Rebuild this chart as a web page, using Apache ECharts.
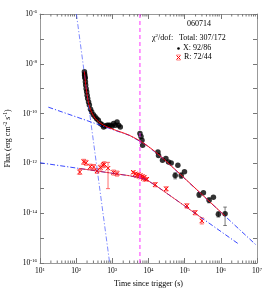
<!DOCTYPE html>
<html><head><meta charset="utf-8">
<script src="https://cdn.jsdelivr.net/npm/echarts@6/dist/echarts.min.js"></script>
<style>html,body{margin:0;padding:0;background:#fff}#c{width:270px;height:291px}</style>
</head><body><div id="c"></div>
<script>
// ---- X-ray data (black circles) ----
const xrayTime = [169,171,172,175,177,180,183,189,195,201,208,220,232,250,269,300,333,370,411,467,520,575,640,714,791,881,981,1087,1211,1349,1493,1663,5800,6200,6600,6900,18240,18940,24420,30280,35720,42430,54700,64900,80000,98700,251000,330000,474000,623000,855000,1310000];
const xrayFlux = [4.8e-9,3.9e-9,3.5e-9,2.9e-9,2.6e-9,1.9e-9,1.4e-9,1.0e-9,7.5e-10,5.5e-10,4.0e-10,2.9e-10,2.2e-10,1.5e-10,1.17e-10,9.0e-11,7.4e-11,6.2e-11,5.4e-11,4.0e-11,3.6e-11,2.9e-11,3.2e-11,3.4e-11,3.4e-11,3.4e-11,3.1e-11,4.0e-11,3.4e-11,4.6e-11,3.4e-11,2.9e-11,1.6e-11,1.2e-11,8.5e-12,5.4e-12,2.9e-12,2.1e-12,1.33e-12,1.56e-12,1.14e-12,1.04e-12,3.3e-13,8.4e-13,3.3e-13,4.6e-13,5.5e-14,6.6e-14,3.3e-14,4.4e-14,9.0e-15,9.5e-15];
// visible X-ray error bars
const xrayBarTime = [54700,80000,251000,474000,855000,1310000];
const xrayBarLow  = [2.4e-13,2.5e-13,4.3e-14,2.6e-14,7.0e-15,3.2e-15];
const xrayBarHigh = [4.2e-13,4.2e-13,6.8e-14,4.2e-14,1.15e-14,1.76e-14];

// ---- Optical R data (red crosses) ----
const optTime = [125,161,188,247,305,378,467,554,601,760,1087,1349,3790,4310,4740,5210,5560,5920,6310,6730,7170,7640,8130,8950,15350,30900,115000,195000,298000];
const optFlux = [4.5e-13,1.16e-12,1.06e-12,7.4e-13,7.2e-13,5.0e-13,6.8e-13,8.4e-13,9.2e-13,6.4e-13,4.3e-13,3.9e-13,4.4e-13,3.8e-13,3.3e-13,3.6e-13,3.0e-13,3.3e-13,2.8e-13,3.0e-13,2.5e-13,2.8e-13,2.3e-13,2.3e-13,1.4e-13,9.5e-14,1.97e-14,1.05e-14,4.9e-15];
const optLow  = [3.6e-13,9.2e-13,8.4e-13,5.9e-13,5.7e-13,4.0e-13,5.4e-13,6.7e-13,7.3e-13,9.7e-14,3.4e-13,3.1e-13,3.9e-13,3.4e-13,2.9e-13,3.2e-13,2.7e-13,2.9e-13,2.5e-13,2.7e-13,2.2e-13,2.5e-13,2.0e-13,2.0e-13,1.15e-13,7.8e-14,1.6e-14,8.6e-15,3.7e-15];
const optHigh = [5.7e-13,1.46e-12,1.33e-12,9.3e-13,9.0e-13,6.3e-13,8.5e-13,1.06e-12,1.16e-12,1.1e-12,5.4e-13,4.9e-13,4.9e-13,4.3e-13,3.7e-13,4.1e-13,3.4e-13,3.7e-13,3.1e-13,3.4e-13,2.8e-13,3.1e-13,2.6e-13,2.6e-13,1.7e-13,1.15e-13,2.4e-14,1.28e-14,6.5e-15];

// ---- model curves ----
const steepTime = [101.6, 843];
const steepFlux = [1e-6, 1e-16];
const xrayPLTime = [17, 3000, 8500, 25000, 9.3e6];
const xrayPLFlux = [1.81e-10, 1.33e-11, 5.6e-12, 1.6e-12, 5.4e-16];
const optPLTime = [10, 3000, 8500, 20000, 3.05e6];
const optPLFlux = [1.06e-12, 3.19e-13, 2.3e-13, 1.02e-13, 5.9e-16];
const xrayModelTime = [168, 177, 183, 195, 208, 232, 269, 333, 411, 575, 1000, 3000, 8500, 25000, 1.3e6];
const xrayModelFlux = [5.0e-9, 2.6e-9, 1.45e-9, 7.5e-10, 4.0e-10, 2.0e-10, 1.1e-10, 6.5e-11, 4.8e-11, 3.4e-11, 2.4e-11, 1.33e-11, 5.6e-12, 1.6e-12, 7.7e-15];
const optModelTime = [120, 3000, 8500, 20000, 3.0e5];
const optModelFlux = [6.3e-13, 3.19e-13, 2.3e-13, 1.02e-13, 6.35e-15];
const vlineTime = [5800, 5800];
const vlineFlux = [1e-6, 1e-16];

// ---- ticks ----
const xTickExps = [1,2,3,4,5,6,7];
const yTickExps = [-6,-8,-10,-12,-14,-16];
const xMinorMult = [2,3,4,5,6,7,8,9];

const zip = (a, b) => a.map((v, i) => [v, b[i]]);
const FONT = 'Liberation Serif';
const xMinorTicks = [];
for (let e = 1; e < 7; e++) for (const m of xMinorMult) xMinorTicks.push([m * Math.pow(10, e)]);

const supRich = {
  b: {fontSize: 7.5, fontFamily: FONT, color: '#000'},
  s: {fontSize: 5, fontFamily: FONT, color: '#000', verticalAlign: 'top', padding: [0,0,4,0]}
};
function expLabel(list) {
  return function (v) {
    const e = Math.round(Math.log10(v));
    return list.includes(e) ? '{b|10}{s|' + e + '}' : '';
  };
}
const axisGray = '#999';
const dashDot = [5, 2, 1.2, 2];

const chart = echarts.init(document.getElementById('c'), null, {renderer: 'canvas'});
const option = {
  animation: false,
  backgroundColor: '#fff',
  grid: {left: 40, right: 13, top: 14, bottom: 28, containLabel: false, outerBoundsMode: 'none'},
  xAxis: [
    {type: 'log', logBase: 10, min: 10, max: 1e7, interval: 1, position: 'bottom',
     axisLine: {show: true, lineStyle: {color: axisGray, width: 1}},
     axisTick: {show: true, inside: true, length: 5, lineStyle: {color: '#777'}},
     axisLabel: {show: true, margin: 4, formatter: expLabel(xTickExps), rich: supRich},
     splitLine: {show: false},
     name: 'Time since trigger (s)', nameLocation: 'middle', nameGap: 15,
     nameTextStyle: {fontFamily: FONT, fontSize: 8, color: '#000'}},
    {type: 'log', logBase: 10, min: 10, max: 1e7, interval: 1, position: 'top',
     axisLine: {show: true, lineStyle: {color: axisGray, width: 1}},
     axisTick: {show: true, inside: true, length: 5, lineStyle: {color: '#777'}},
     axisLabel: {show: false}, splitLine: {show: false}}
  ],
  yAxis: [
    {type: 'log', logBase: 10, min: 1e-16, max: 1e-6, interval: 1, position: 'left',
     axisLine: {show: true, lineStyle: {color: axisGray, width: 1}},
     axisTick: {show: true, inside: true, length: 4, lineStyle: {color: '#777'}},
     axisLabel: {show: true, margin: 3, formatter: expLabel(yTickExps), rich: supRich},
     splitLine: {show: false},
     name: '{a|Flux (erg cm}{s|-2}{a| s}{s|-1}{a|)}', nameLocation: 'middle', nameGap: 19,
     nameTextStyle: {rich: {a: {fontFamily: FONT, fontSize: 8, color: '#000'},
                            s: {fontFamily: FONT, fontSize: 5.5, color: '#000', verticalAlign: 'top', padding: [0,0,4,0]}}}},
    {type: 'log', logBase: 10, min: 1e-16, max: 1e-6, interval: 1, position: 'right',
     axisLine: {show: true, lineStyle: {color: axisGray, width: 1}},
     axisTick: {show: true, inside: true, length: 4, lineStyle: {color: '#777'}},
     axisLabel: {show: false}, splitLine: {show: false}}
  ],
  series: [
    {type: 'custom', xAxisIndex: 0, yAxisIndex: 0, silent: true, data: xMinorTicks, encode: {x: 0},
     renderItem: function (params, api) {
       const b = api.coord([api.value(0), 1e-16]);
       const t = api.coord([api.value(0), 1e-6]);
       return {type: 'group', children: [
         {type: 'line', shape: {x1: b[0], y1: b[1], x2: b[0], y2: b[1] - 2.5}, style: {stroke: '#777', lineWidth: 1}},
         {type: 'line', shape: {x1: t[0], y1: t[1], x2: t[0], y2: t[1] + 2.5}, style: {stroke: '#777', lineWidth: 1}}
       ]};
     }},
    {type: 'custom', silent: true, data: xrayBarTime.map((t, i) => [t, xrayBarLow[i], xrayBarHigh[i]]),
     encode: {x: 0, y: [1, 2]}, z: 3,
     renderItem: function (params, api) {
       const a = api.coord([api.value(0), api.value(1)]);
       const b = api.coord([api.value(0), api.value(2)]);
       const st = {stroke: '#555', lineWidth: 0.8};
       return {type: 'group', children: [
         {type: 'line', shape: {x1: a[0], y1: a[1], x2: b[0], y2: b[1]}, style: st},
         {type: 'line', shape: {x1: a[0] - 1.8, y1: a[1], x2: a[0] + 1.8, y2: a[1]}, style: st},
         {type: 'line', shape: {x1: b[0] - 1.8, y1: b[1], x2: b[0] + 1.8, y2: b[1]}, style: st}
       ]};
     }},
    {type: 'scatter', data: zip(xrayTime, xrayFlux), symbol: 'circle', symbolSize: 5.5,
     itemStyle: {color: '#000'}, z: 4, silent: true},
    {type: 'custom', silent: true, z: 4,
     data: optTime.map((t, i) => [t, optFlux[i], optLow[i], optHigh[i]]),
     encode: {x: 0, y: 1},
     renderItem: function (params, api) {
       const x = api.value(0);
       const p = api.coord([x, api.value(1)]);
       const a = api.coord([x, api.value(2)]);
       const b = api.coord([x, api.value(3)]);
       const bar = {stroke: '#ff5a5a', lineWidth: 0.9};
       const mk = {stroke: '#ff0000', lineWidth: 1};
       const r = 2.2;
       return {type: 'group', children: [
         {type: 'line', shape: {x1: a[0], y1: a[1], x2: b[0], y2: b[1]}, style: bar},
         {type: 'line', shape: {x1: a[0] - 2, y1: a[1], x2: a[0] + 2, y2: a[1]}, style: bar},
         {type: 'line', shape: {x1: b[0] - 2, y1: b[1], x2: b[0] + 2, y2: b[1]}, style: bar},
         {type: 'line', shape: {x1: p[0] - r, y1: p[1] - r, x2: p[0] + r, y2: p[1] + r}, style: mk},
         {type: 'line', shape: {x1: p[0] - r, y1: p[1] + r, x2: p[0] + r, y2: p[1] - r}, style: mk}
       ]};
     }},
    {type: 'line', data: zip(steepTime, steepFlux), symbol: 'none', z: 5, silent: true,
     lineStyle: {color: '#4455ff', width: 0.7, type: dashDot}},
    {type: 'line', data: zip(xrayPLTime, xrayPLFlux), symbol: 'none', z: 5, silent: true,
     lineStyle: {color: '#2233ff', width: 0.9, type: dashDot}},
    {type: 'line', data: zip(optPLTime, optPLFlux), symbol: 'none', z: 5, silent: true,
     lineStyle: {color: '#2233ff', width: 0.9, type: dashDot}},
    {type: 'line', data: zip(xrayModelTime, xrayModelFlux), symbol: 'none', z: 6, silent: true, smooth: 0.3,
     lineStyle: {color: '#ff0000', width: 0.9}},
    {type: 'line', data: zip(optModelTime, optModelFlux), symbol: 'none', z: 6, silent: true,
     lineStyle: {color: '#ff0000', width: 0.7}},
    {type: 'line', data: zip(vlineTime, vlineFlux), symbol: 'none', z: 6, silent: true,
     lineStyle: {color: '#ff33ff', width: 1, type: [4, 3]}}
  ],
  graphic: [
    {type: 'text', left: 187, top: 20, style: {text: '060714', font: '8px "Liberation Serif"', fill: '#000'}},
    {type: 'text', left: 152, top: 33, style: {text: '{a|χ}{s|2}{a|/dof:}', rich: {
      a: {fontFamily: FONT, fontSize: 8, fill: '#000'},
      s: {fontFamily: FONT, fontSize: 5, fill: '#000', verticalAlign: 'top', padding: [0,0,4,0]}}}},
    {type: 'text', left: 179, top: 34, style: {text: 'Total: 307/172', font: '8px "Liberation Serif"', fill: '#000'}},
    {type: 'circle', shape: {cx: 178.5, cy: 48.5, r: 1.3}, style: {fill: '#000'}},
    {type: 'text', left: 183, top: 44, style: {text: 'X: 92/86', font: '8px "Liberation Serif"', fill: '#000'}},
    {type: 'group', children: [
      {type: 'line', shape: {x1: 176.5, y1: 55.5, x2: 180.5, y2: 59.5}, style: {stroke: '#ff0000', lineWidth: 1}},
      {type: 'line', shape: {x1: 176.5, y1: 59.5, x2: 180.5, y2: 55.5}, style: {stroke: '#ff0000', lineWidth: 1}},
      {type: 'line', shape: {x1: 176.5, y1: 55, x2: 180.5, y2: 55}, style: {stroke: '#ff5a5a', lineWidth: 0.8}},
      {type: 'line', shape: {x1: 176.5, y1: 60, x2: 180.5, y2: 60}, style: {stroke: '#ff5a5a', lineWidth: 0.8}}
    ]},
    {type: 'text', left: 184, top: 53, style: {text: 'R: 72/44', font: '8px "Liberation Serif"', fill: '#000'}}
  ]
};
chart.setOption(option);
</script>
</body></html>
